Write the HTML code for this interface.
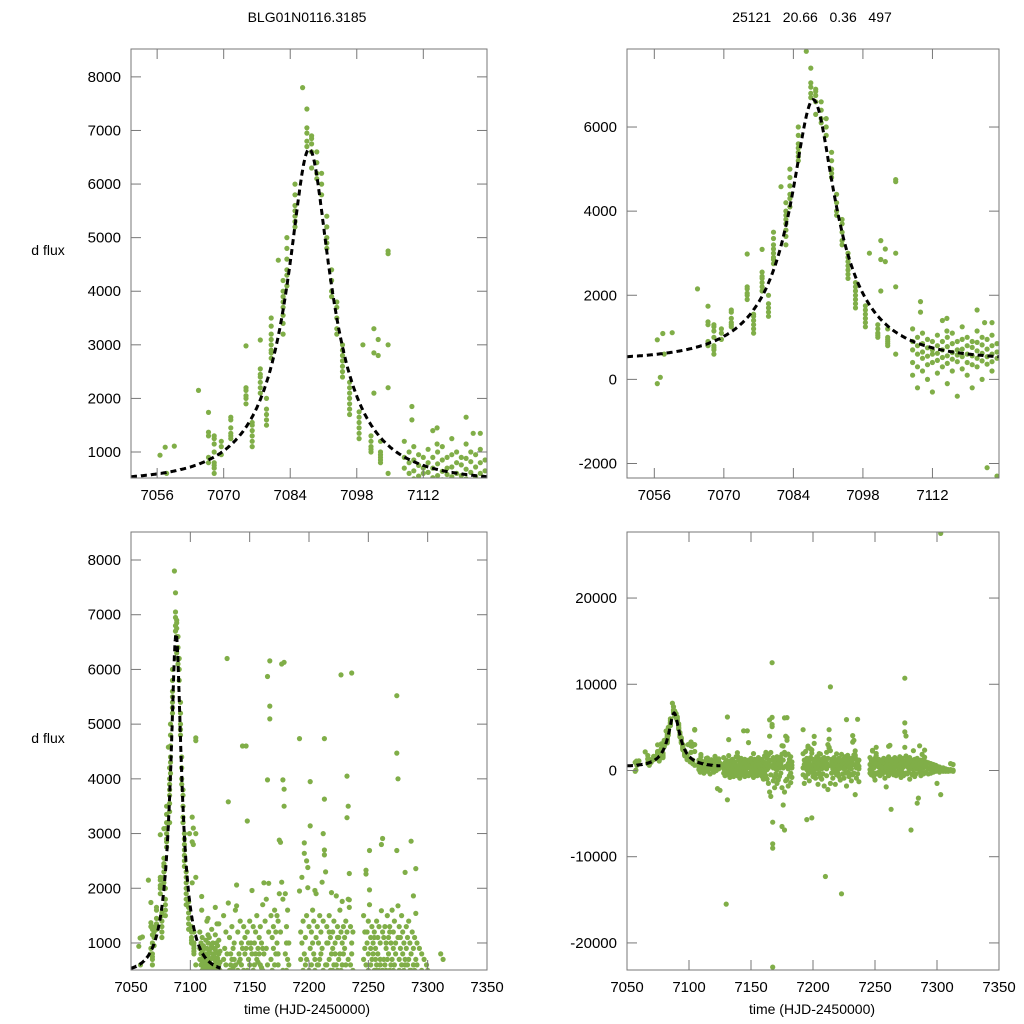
<!DOCTYPE html>
<html><head><meta charset="utf-8"><style>
html,body{margin:0;padding:0;background:#fff;width:1024px;height:1024px;overflow:hidden;}
svg{display:block;font-family:"Liberation Sans",sans-serif;}
</style></head><body>
<svg id="chart" width="1024" height="1024" viewBox="0 0 1024 1024">
<text x="307" y="22" font-size="14" text-anchor="middle">BLG01N0116.3185</text>
<text x="812" y="22" font-size="14" text-anchor="middle" xml:space="preserve">25121   20.66   0.36   497</text>
<text x="48" y="255" font-size="14" text-anchor="middle">d flux</text>
<text x="48" y="743" font-size="14" text-anchor="middle">d flux</text>
<text x="307" y="1014" font-size="14" text-anchor="middle">time (HJD-2450000)</text>
<text x="812" y="1014" font-size="14" text-anchor="middle">time (HJD-2450000)</text>
</svg>
<script>
const modelParams = [7088, 17, 0.25, 2005, 450]; // t0, tE, u0, Fs, Fb
const eventRows = [
[7056.6,940,-100],[7057.2,50],[7057.7,1090],[7058,600],[7059.6,1110],[7064.7,2150],
[7066.8,1740,1370,1300,900,800],[7068,1300,1250,1150,1000,800,750,700,600],[7069.5,1200,1100,950],
[7071.5,1650,1600,1450,1350,1300,1250],[7074.7,2980,2200,2150,2050,2000,1900],
[7076,1550,1500,1400,1300,1200,1100],[7077.7,3090,2550,2450,2400,2300,2200,2100],
[7079,2000,1800,1700,1600,1500],[7080,3500,3350,3200,3100,3000,2900,2850,2750],[7081.5,4580],
[7082.5,4200,4000,3900,3800,3700,3550,3400,3200],[7083.3,5000,4800,4600,4400,4300,4100],
[7085,6000,5800,5600,5500,5300,5200,5400],[7086.6,7800],[7087.5,7400,7050,6950,6800,6700],
[7088.5,6900,6850,6750,6600,6300],[7089.6,6600,6400,6200,6100],[7090.6,6200,6000,5800],
[7091.7,5400,5200,5000,4900,4800],[7092.7,4400,4200,4000,3900],[7093.8,3800,3700,3500,3300,3200],
[7095,3000,2900,2800,2700,2600,2500,2400],[7096.5,2300,2200,2100,2000,1900,1800,1700],
[7098.5,1750,1650,1550,1450,1350,1250],[7099.3,3000],[7101.6,3300,2850,2100],[7102.5,3100,2800],
[7104.6,4750,4700,3000,2200,600],[7101,1300,1200,1100,1050,1000],[7103,950,900,850,800,1000,1200],
[7109.6,1850,1600],[7114.9,1450,1150],[7121,1650],[7122.5,1350],[7124,1350]
];
const baseRows = [
[7108,900,700,1200,400,100],[7109,1000,800,600,300,-200],[7110,1100,850,650,500,200],[7111,950,750,550,350,0],
[7112,900,700,600,400,-300],[7113,1050,800,620,450,150],[7114,1400,900,700,520,300],[7115,1000,780,560,380,-100],
[7116,1100,850,640,480,200],[7117,900,700,580,420,-400],[7118,1250,950,720,540,250],[7119,1000,800,600,400,100],
[7120,900,760,560,350,-200],[7121,1150,880,680,500,300],[7122,1000,820,620,440,0],[7123,950,720,540,360,-2100],
[7124,1050,800,600,420,200],[7125,850,650,500,-2300],
[7128,1500,700,-300,200],[7129,900,400,-600,100],[7130,1200,600,-400,-15500],[7131,6200,-3400,800,-200],
[7132,3580,1730,300,-500],[7133,1100,500,-100,-800],[7134,800,200,-300,600],[7135,1300,700,100,-500],
[7136,900,300,-700,550],[7137,1000,400,-200,700],[7138,1600,600,0,-400],[7139,2060,1680,200,-600],
[7140,1200,500,-300,100],[7141,800,-900,300,650],[7142,1400,700,-100,200],[7143,1000,400,-500,600],
[7144,4600,900,0,-300],[7145,1300,500,-700,300],[7146,800,200,-200,1100],[7147,4600,900,300,-400],
[7148,3230,1200,-600,500],[7149,1000,300,-300,700],[7150,1400,600,100,-500],[7151,900,-200,400,1000],
[7152,1960,800,0,-800],[7153,1300,500,-400,200],[7154,1000,300,-200,600],[7155,800,-600,400,1200],
[7156,1500,700,100,-300],[7157,900,400,-500,650],[7158,1100,200,-200,800],[7159,1300,600,0,-700],
[7160,1000,-1000,300,550],[7161,1700,500,-300,900],[7162,2100,800,-600,200],[7163,1400,400,-1000,100],
[7164,1800,900,-1500,300],[7165,5870,3980,-2500,600],[7166,2090,1200,-3000,-500],[7167,12500,6155,5330,5095],
[7167.5,-8500,-9000,-22800,-6000],[7168,1500,700,-1200,300],[7169,1100,500,-800,-2000],[7170,900,200,-400,1300],
[7171,1600,600,-1500,100],[7172,1200,-1100,400,800],[7173,1000,300,-700,1500],[7174,1400,800,-300,600],
[7175,2880,1900,-2000,-6500],[7176,2840,1200,-4000,300],[7177,6100,2110,-2500,-6900],[7178,3980,1800,-1200,500],
[7179,6130,3810,3500,-1000],[7180,1900,800,-1800,200],[7181,1300,500,-600,1000],[7182,1600,700,-300,-1400],
[7183,1000,300,-800,600],
[7192,4735,1950,-500,300],[7193,1200,400,-1500,700],[7194,1000,-800,300,2200],[7195,1400,-5700,500,100],
[7196,2830,2640,-400,800],[7197,1100,300,-1200,600],[7198,1500,700,-200,2500],[7199,2380,2010,-5500,400],
[7200,1300,500,-700,100],[7201,3950,3140,-300,900],[7202,1200,600,-900,200],[7203,1000,300,-400,1600],
[7204,1400,800,-1600,200],[7205,1960,700,-300,500],[7206,1100,400,-800,1900],[7207,1300,-1000,200,600],
[7208,1000,600,-400,300],[7209,1500,400,-1800,700],[7210,1200,-12300,300,800],[7211,2110,900,-600,200],
[7212,1400,3000,-2200,500],[7213,4735,3630,2610,2700],[7214,9700,2300,-1500,600],[7215,1300,600,-300,1000],
[7216,1000,400,-900,200],[7217,1500,700,-200,1200],[7218,1100,300,-1600,500],[7219,1920,800,-500,100],
[7220,1200,500,-300,900],[7221,1400,-700,200,600],[7222,1000,400,-1100,800],[7223,1860,-14300,300,600],
[7224,1300,500,-400,1100],[7225,1100,700,-900,200],[7226,1600,300,-300,800],[7227,5900,1200,-1800,500],
[7228,1760,600,-200,1000],[7229,1300,800,-700,300],[7230,1100,400,-400,900],[7231,1400,600,-1200,200],
[7232,4050,3290,1200,-500],[7233,3500,1800,-300,700],[7234,1790,1650,2270,-2800],[7235,1300,600,-900,300],
[7236,5935,1000,-400,800],[7237,1200,500,-1300,200],
[7246,1500,700,100,-300],[7247,1200,400,-500,900],[7248,2330,2260,-200,600],[7249,1000,300,-700,1200],
[7250,1400,-1100,500,800],[7251,2690,1970,1700,-300],[7252,1100,600,-400,900],[7253,1300,400,-200,700],
[7254,1000,800,-600,300],[7255,1200,500,-100,1100],[7256,900,300,-400,700],[7257,1400,600,-200,500],
[7258,1100,-900,300,800],[7259,1300,500,-1900,200],[7260,1000,700,-300,600],[7261,2800,1590,-600,300],
[7262,2910,1200,-200,500],[7263,1100,400,-4500,700],[7264,1300,600,-300,200],[7265,900,-500,500,1000],
[7266,1500,700,-100,300],[7267,1100,400,-600,800],[7268,1300,500,-200,1200],[7269,1000,300,-400,600],
[7270,1600,700,-300,200],[7271,1200,500,-800,900],[7272,1400,600,-200,300],[7273,1000,-600,400,800],
[7274,5520,4470,2690,10700],[7275,1680,1100,-300,4000],[7276,1300,500,-400,700],[7277,1100,300,-200,900],
[7278,1500,600,-1000,400],[7279,1200,-6900,300,800],[7280,1000,500,-500,200],[7281,2290,700,-300,600],
[7282,1300,400,-700,900],[7283,1100,600,-400,200],[7284,1400,300,-3800,700],[7285,1000,500,-3200,200],
[7286,2860,800,-200,500],[7287,1200,400,-600,300],[7288,1860,600,-200,900],[7289,1100,300,-400,500],
[7290,2360,1540,-300,700],[7291,1000,400,-200,600],[7293,900,300,-400,200],[7295,800,200,-300,500],
[7297,700,100,-200,400],[7299,600,200,-100,300],[7300,500,-1500,100,0],[7302,400,100,-200,200],
[7303,27500,-2800,100,0],[7305,300,0,-100,200],[7307,200,0,-100,100],[7309,100,0,-100,50],
[7311,800,0,-50,100],[7313,700,0,-100,50]
];
const xTicksZoom = [7056,7070,7084,7098,7112];
const xTicksFull = [7050,7100,7150,7200,7250,7300,7350];
const yTicksTL = [1000,2000,3000,4000,5000,6000,7000,8000];
const yTicksTR = [-2000,0,2000,4000,6000];
const yTicksBL = [1000,2000,3000,4000,5000,6000,7000,8000];
const yTicksBR = [-20000,-10000,0,10000,20000];

const panels = [
 {id:'top-left', x0:131,x1:487,y0:49,y1:478, t0:7050.5,t1:7125.4, f0:515,f1:8520, xt:xTicksZoom, yt:yTicksTL, modelEnd:7125.4},
 {id:'top-right', x0:627,x1:999,y0:49,y1:478, t0:7050.5,t1:7125.4, f0:-2345,f1:7855, xt:xTicksZoom, yt:yTicksTR, modelEnd:7125.4},
 {id:'bottom-left', x0:131,x1:487,y0:532,y1:970, t0:7050,t1:7350, f0:506,f1:8512, xt:xTicksFull, yt:yTicksBL, modelEnd:7125.4},
 {id:'bottom-right', x0:627,x1:999,y0:532,y1:970, t0:7050,t1:7350, f0:-23140,f1:27660, xt:xTicksFull, yt:yTicksBR, modelEnd:7125.4}
];
const NS='http://www.w3.org/2000/svg';
const svg=document.getElementById('chart');
function mk(tag,attrs,parent){const e=document.createElementNS(NS,tag);for(const k in attrs)e.setAttribute(k,attrs[k]);(parent||svg).appendChild(e);return e;}
function model(t){const [t0,tE,u0,Fs,Fb]=modelParams;const u=Math.sqrt(u0*u0+((t-t0)/tE)**2);const A=(u*u+2)/(u*Math.sqrt(u*u+4));return Fb+Fs*(A-1);}
panels.forEach((p,i)=>{
  const X=t=>p.x0+(t-p.t0)/(p.t1-p.t0)*(p.x1-p.x0);
  const Y=f=>p.y1-(f-p.f0)/(p.f1-p.f0)*(p.y1-p.y0);
  const g=mk('g',{});
  
  
  const cid='clip'+i;
  const cp=mk('clipPath',{id:cid},g);mk('rect',{x:p.x0,y:p.y0,width:p.x1-p.x0,height:p.y1-p.y0},cp);
  const pts=mk('g',{'clip-path':'url(#'+cid+')',fill:'#80ae48'},g);
  
  
  [eventRows,baseRows].forEach(rows=>rows.forEach(r=>{
    if(r[0]<p.t0-1||r[0]>p.t1+1) return;
    for(let k=1;k<r.length;k++){
      const f=r[k];
      if(f<p.f0-300*(p.f1-p.f0)/8000||f>p.f1+300*(p.f1-p.f0)/8000) continue;
      const c=mk('circle',{cx:X(r[0]).toFixed(1),cy:Y(f).toFixed(1),r:2.6},pts);
      
      
    }
  }));
  let d='';for(let t=p.t0;t<=p.modelEnd;t+=0.1){d+=(d?'L':'M')+X(t).toFixed(1)+','+Y(model(t)).toFixed(1);}
  const ln=mk('path',{d:d,fill:'none',stroke:'#000','stroke-width':3,'stroke-dasharray':'6,4','clip-path':'url(#'+cid+')'},g);
  
  
  const fr=mk('rect',{x:p.x0,y:p.y0,width:p.x1-p.x0,height:p.y1-p.y0,fill:'none',stroke:'#777','stroke-width':1},g);
  
  
  p.xt.forEach(t=>{const x=X(t);
    mk('line',{x1:x,x2:x,y1:p.y1,y2:p.y1-10,stroke:'#777'},g);mk('line',{x1:x,x2:x,y1:p.y0,y2:p.y0+10,stroke:'#777'},g);
    const tx=mk('text',{x:x,y:p.y1+22,'font-size':15,'text-anchor':'middle'},g);tx.textContent=t;
    
    
  });
  p.yt.forEach(f=>{const y=Y(f);
    mk('line',{x1:p.x0,x2:p.x0+10,y1:y,y2:y,stroke:'#777'},g);mk('line',{x1:p.x1,x2:p.x1-10,y1:y,y2:y,stroke:'#777'},g);
    const tx=mk('text',{x:p.x0-10,y:y+5,'font-size':15,'text-anchor':'end'},g);tx.textContent=f;
    
    
  });
});
</script>
</body></html>
